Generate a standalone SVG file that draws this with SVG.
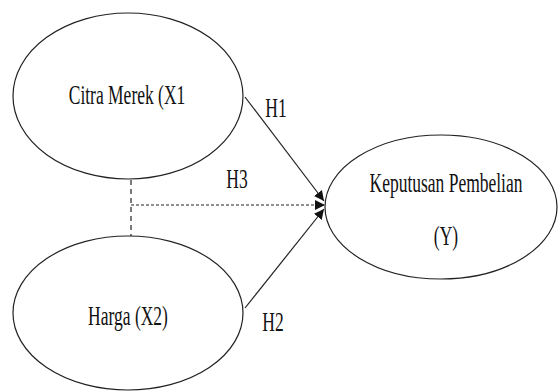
<svg xmlns="http://www.w3.org/2000/svg" width="558" height="392" viewBox="0 0 558 392">
<defs>
<style>
.node ellipse{fill:#fff;stroke:#222;stroke-width:1.2}
.lbl{font-family:"Liberation Serif","Times New Roman",serif;font-size:28px;fill:#111;text-anchor:middle}
.edge{stroke:#222;stroke-width:1.2;fill:none}
</style>
<marker id="ah" viewBox="0 0 10 10" refX="10" refY="5" markerWidth="10" markerHeight="10" markerUnits="userSpaceOnUse" orient="auto">
<path d="M0,0 L10,5 L0,10 z" fill="#111"/>
</marker>
</defs>
<rect width="558" height="392" fill="#fff"/>
<g id="connectors">
<line class="edge" x1="245" y1="97" x2="324" y2="201" marker-end="url(#ah)"/>
<line class="edge" x1="245" y1="308" x2="324" y2="209" marker-end="url(#ah)"/>
<line class="edge" x1="131" y1="180" x2="131" y2="237" stroke-dasharray="5,4"/>
<line class="edge" x1="131" y1="205" x2="325" y2="205" stroke-dasharray="3,2" marker-end="url(#ah)"/>
<g transform="translate(276,117) scale(0.625,1)"><text class="lbl" x="0" y="0">H1</text></g>
<g transform="translate(237,188) scale(0.625,1)"><text class="lbl" x="0" y="0">H3</text></g>
<g transform="translate(273,331) scale(0.625,1)"><text class="lbl" x="0" y="0">H2</text></g>
</g>
<g id="x1" class="node">
<ellipse cx="128" cy="96" rx="115" ry="83"/>
<g transform="translate(127,104) scale(0.625,1)"><text class="lbl" x="0" y="0">Citra Merek (X1</text></g>
</g>
<g id="x2" class="node">
<ellipse cx="128" cy="313" rx="115" ry="77"/>
<g transform="translate(128,325) scale(0.625,1)"><text class="lbl" x="0" y="0">Harga (X2)</text></g>
</g>
<g id="y" class="node">
<ellipse cx="441" cy="207" rx="116" ry="72"/>
<g transform="translate(446,192) scale(0.625,1)"><text class="lbl" x="0" y="0">Keputusan Pembelian</text></g>
<g transform="translate(446,245) scale(0.625,1)"><text class="lbl" x="0" y="0">(Y)</text></g>
</g>
</svg>
